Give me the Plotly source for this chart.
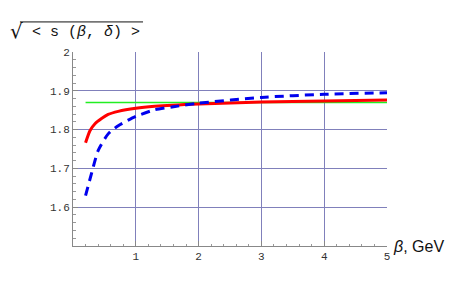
import plotly.graph_objects as go

beta_red = [0.2, 0.27, 0.35, 0.46, 0.56, 0.72, 1.0, 1.3, 2.0, 3.0, 4.0, 5.0]
s_red = [1.766, 1.797, 1.815, 1.829, 1.839, 1.847, 1.855, 1.860, 1.866, 1.871, 1.874, 1.876]

beta_blue = [0.2, 0.3, 0.4, 0.56, 0.72, 1.0, 1.3, 1.6, 2.0, 3.0, 4.0, 5.0]
s_blue = [1.630, 1.690, 1.746, 1.789, 1.810, 1.834, 1.851, 1.859, 1.868, 1.883, 1.891, 1.895]

beta_green = [0.2, 5.0]
s_green = [1.87, 1.87]

x_ticks = [1, 2, 3, 4, 5]
y_ticks = [1.6, 1.7, 1.8, 1.9, 2.0]
y_tick_labels = ["1.6", "1.7", "1.8", "1.9", "2"]

fig = go.Figure()
fig.add_trace(go.Scatter(x=beta_green, y=s_green, mode="lines",
                         line=dict(color="#22ee22", width=1.5), showlegend=False))
fig.add_trace(go.Scatter(x=beta_red, y=s_red, mode="lines", line_shape="spline",
                         line=dict(color="#ff0000", width=3, smoothing=0.6), showlegend=False))
fig.add_trace(go.Scatter(x=beta_blue, y=s_blue, mode="lines", line_shape="spline",
                         line=dict(color="#0000ee", width=3, dash="9px,6px", smoothing=0.6),
                         showlegend=False))

mono = "Liberation Mono"
# page body has an 8px default margin, compensate so the plot area lands at 73..387 x 52..246
fig.update_layout(
    width=458, height=283,
    margin=dict(l=65, r=79, t=44, b=45),
    plot_bgcolor="white", paper_bgcolor="white",
    xaxis=dict(range=[0, 5], tickvals=x_ticks, ticks="inside", ticklen=5,
               tickcolor="#888888", showline=True, linecolor="#888888",
               gridcolor="#8080bb", gridwidth=1, zeroline=False,
               tickfont=dict(family=mono, size=11, color="#333333"),
               minor=dict(dtick=0.2, ticks="inside", ticklen=2.5, tickcolor="#999999", showgrid=False)),
    yaxis=dict(range=[1.5, 2.0], tickvals=y_ticks, ticktext=y_tick_labels,
               ticks="inside", ticklen=5, tickcolor="#888888",
               showline=True, linecolor="#888888",
               gridcolor="#8080bb", gridwidth=1, zeroline=False,
               tickfont=dict(family=mono, size=11, color="#333333"),
               minor=dict(dtick=0.02, ticks="inside", ticklen=2.5, tickcolor="#999999", showgrid=False)),
    annotations=[
        dict(text="√", xref="paper", yref="paper",
             x=-0.207, y=1.035, xanchor="left", yanchor="bottom", showarrow=False,
             font=dict(family="DejaVu Sans", size=20, color="#111111")),
        dict(text="< s (<i>β</i>, <i>δ</i>) >", xref="paper", yref="paper",
             x=-0.137, y=1.045, xanchor="left", yanchor="bottom", showarrow=False,
             font=dict(family=mono, size=15, color="#111111")),
        dict(text="<i>β</i>,\u00a0GeV", xref="paper", yref="paper",
             x=1.012, y=0.0, xanchor="left", yanchor="middle", showarrow=False,
             font=dict(family="Liberation Sans", size=16, color="#111111")),
    ],
    shapes=[dict(type="line", xref="paper", yref="paper", x0=-0.169, x1=0.223,
                 y0=1.155, y1=1.155, line=dict(color="#111111", width=1))],
)

fig.write_html("out.html")
